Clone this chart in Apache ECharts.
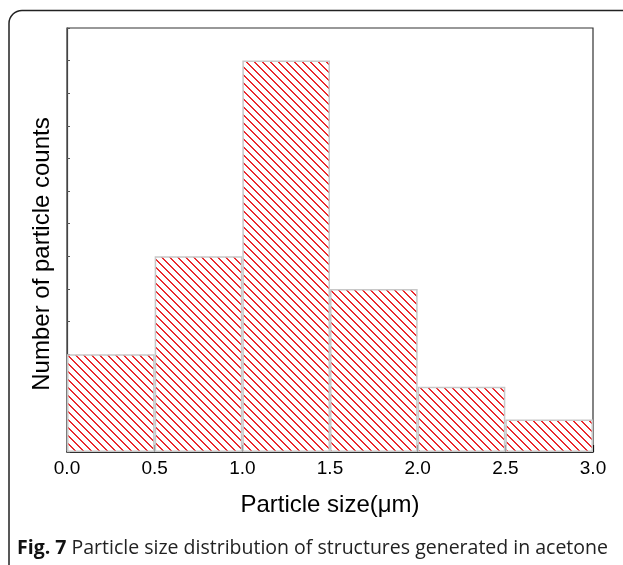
<!DOCTYPE html>
<html>
<head>
<meta charset="utf-8">
<script src="https://cdn.jsdelivr.net/npm/echarts@6/dist/echarts.min.js"></script>
<style>html,body{margin:0;padding:0;background:#fff;}#c{width:623px;height:565px;}</style>
</head>
<body>
<div id="c"></div>
<script>
var binLabels = ['0.0-0.5', '0.5-1.0', '1.0-1.5', '1.5-2.0', '2.0-2.5', '2.5-3.0'];
var counts = [3, 6, 12, 5, 2, 1];
var xTickLabels = ['0.0', '0.5', '1.0', '1.5', '2.0', '2.5', '3.0'];
var xName = 'Particle size(\u03bcm)';
var yName = 'Number of particle counts';
var caption = 'Particle size distribution of structures generated in acetone';

var pat = document.createElement('canvas');
pat.width = 8; pat.height = 8;
var g = pat.getContext('2d');
g.fillStyle = '#fff'; g.fillRect(0, 0, 8, 8);
g.fillStyle = '#ea2a2e';
for (var i = 0; i < 8; i++) { g.fillRect(i, i, 1, 1); g.fillRect((i + 1) % 8, i, 1, 1); }

var chart = echarts.init(document.getElementById('c'), null, {renderer: 'canvas'});
chart.setOption({
  animation: false,
  textStyle: {fontFamily: 'Liberation Sans'},
  grid: {left: 67, right: 30, top: 28, bottom: 113, show: true, borderColor: '#333', borderWidth: 1.2, backgroundColor: 'transparent'},
  xAxis: [
    {type: 'category', data: binLabels, show: false, boundaryGap: true},
    {type: 'value', min: 0, max: 3, interval: 0.5, position: 'bottom',
     axisLine: {show: true, lineStyle: {color: '#111', width: 1.5}},
     axisTick: {show: true, inside: true, length: 7, lineStyle: {color: '#111', width: 1.2}},
     minorTick: {show: true, splitNumber: 2, length: 4, lineStyle: {color: '#111', width: 1.2}},
     splitLine: {show: false},
     axisLabel: {color: '#000', fontSize: 19, margin: 7,
       formatter: function (v) { return xTickLabels[Math.round(v / 0.5)]; }}}
  ],
  yAxis: {type: 'value', min: 0, max: 13, interval: 1,
    axisLine: {show: true, lineStyle: {color: '#444', width: 1.2}},
    axisTick: {show: true, inside: true, length: 3, lineStyle: {color: '#555'}},
    axisLabel: {show: false}, splitLine: {show: false}},
  series: [{
    type: 'bar', xAxisIndex: 0, data: counts, barCategoryGap: '0%',
    itemStyle: {color: {image: pat, repeat: 'repeat'}, borderColor: '#c8c8c8', borderWidth: 1.5}
  }],
  graphic: [
    {type: 'rect', silent: true, shape: {x: 9, y: 10.5, width: 700, height: 600, r: 13},
     style: {fill: 'none', stroke: '#222', lineWidth: 1.5}},
    {type: 'text', x: 330, y: 505, silent: true,
     style: {text: xName, font: '24px "Liberation Sans"', fill: '#000', align: 'center', verticalAlign: 'middle'}},
    {type: 'text', x: 42, y: 254, rotation: Math.PI / 2, silent: true,
     style: {text: yName, font: '24px "Liberation Sans"', fill: '#000', align: 'center', verticalAlign: 'middle'}},
    {type: 'text', x: 17, y: 548, silent: true,
     style: {text: '{b|Fig. 7} ' + caption, fill: '#222', verticalAlign: 'middle',
       font: '19.5px "Open Sans"', rich: {b: {fontWeight: 'bold', fontSize: 19.5, fontFamily: 'Open Sans', fill: '#111'}}}}
  ]
});
</script>
</body>
</html>
